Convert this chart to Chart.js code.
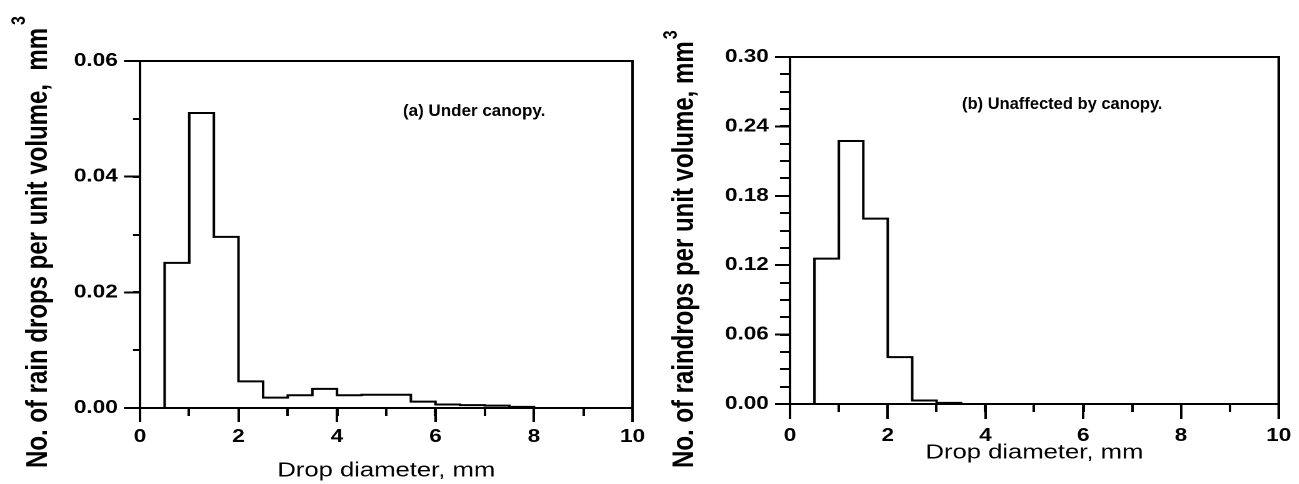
<!DOCTYPE html>
<html><head><meta charset="utf-8">
<script src="https://cdn.jsdelivr.net/npm/chart.js@4.4.1/dist/chart.umd.min.js"></script>
<style>
html,body{margin:0;padding:0;background:#fff;overflow:hidden;width:1299px;height:484px;}
.panel{position:absolute;top:0;height:484px;transform:scaleX(1.25);transform-origin:0 0;}
#pa{left:0;width:520px;} #pb{left:650px;width:519px;}
</style></head><body>
<div class="panel" id="pa"><canvas id="ca" width="520" height="484"></canvas></div>
<div class="panel" id="pb"><canvas id="cb" width="519" height="484"></canvas></div>
<script>
// ---- data ----
const binWidth = 0.5;
const binStartA = [0.5, 1.0, 1.5, 2.0, 2.5, 3.0, 3.5, 4.0, 4.5, 5.0, 5.5, 6.0, 6.5, 7.0, 7.5];
const dropsUnderCanopy = [0.0251, 0.0510, 0.0296, 0.0046, 0.0018, 0.0022, 0.0033, 0.0022, 0.0023, 0.0023, 0.0011, 0.0006, 0.0005, 0.0004, 0.0002];
const binStartB = [0.5, 1.0, 1.5, 2.0, 2.5, 3.0];
const dropsUnaffected = [0.1257, 0.2274, 0.1603, 0.0405, 0.0030, 0.0010];
const xTickValues = [0, 2, 4, 6, 8, 10];
const yTickValuesA = [0.00, 0.02, 0.04, 0.06];
const yTickValuesB = [0.00, 0.06, 0.12, 0.18, 0.24, 0.30];

const FAM = '"Liberation Sans", Arial, Helvetica, sans-serif';
const STRETCH = 1.25;

function stepPoints(starts, values) {
  const pts = [{x: starts[0], y: 0}];
  starts.forEach((s, i) => pts.push({x: s, y: values[i]}));
  pts.push({x: starts[starts.length - 1] + binWidth, y: 0});
  return pts;
}

const minorTicksPlugin = {
  id: 'minorTicks',
  afterDraw(chart, args, o) {
    const ctx = chart.ctx, a = chart.chartArea;
    const xs = chart.scales.x, ys = chart.scales.y;
    ctx.save();
    ctx.strokeStyle = '#000'; ctx.lineWidth = 2; ctx.lineCap = 'butt';
    ctx.beginPath();
    for (let k = 0; ; k++) {
      const v = xs.min + k * o.xStep;
      if (v > xs.max + 1e-9) break;
      const p = Math.round(xs.getPixelForValue(v));
      ctx.moveTo(p, a.bottom); ctx.lineTo(p, a.bottom + o.xLen);
    }
    for (let k = 0; ; k++) {
      const v = ys.min + k * o.yStep;
      if (v > ys.max + 1e-9) break;
      const p = Math.round(ys.getPixelForValue(v));
      ctx.moveTo(a.left - o.yLen, p); ctx.lineTo(a.left, p);
    }
    ctx.stroke();
    ctx.restore();
  }
};

const panelTextPlugin = {
  id: 'panelText',
  afterDraw(chart, args, o) {
    const ctx = chart.ctx;
    ctx.save();
    ctx.fillStyle = '#000';
    ctx.textAlign = 'left'; ctx.textBaseline = 'alphabetic';
    // annotation
    ctx.save();
    ctx.translate(o.note.x, o.note.y);
    ctx.scale(1 / STRETCH, 1);
    ctx.font = 'bold ' + o.note.size + 'px ' + FAM;
    ctx.fillText(o.note.text, 0, 0);
    ctx.restore();
    // y axis title with superscript
    ctx.save();
    ctx.translate(o.yTitle.x, o.yTitle.y);
    ctx.rotate(-Math.PI / 2);
    ctx.font = 'bold ' + o.yTitle.size + 'px ' + FAM;
    ctx.fillText(o.yTitle.text, 0, 0);
    const w = ctx.measureText(o.yTitle.text).width;
    ctx.font = 'bold ' + o.yTitle.supSize + 'px ' + FAM;
    ctx.fillText(o.yTitle.sup, w + o.yTitle.supDx, o.yTitle.supDy);
    ctx.restore();
    ctx.restore();
  }
};

function makeChart(id, c) {
  const tickFont = {family: FAM, size: 18, weight: 'bold'};
  return new Chart(document.getElementById(id), {
    type: 'line',
    data: {datasets: [{
      data: stepPoints(c.starts, c.values),
      stepped: 'before', borderColor: '#000', borderWidth: 2,
      pointRadius: 0, fill: false, tension: 0
    }]},
    options: {
      responsive: false, animation: false, devicePixelRatio: 2,
      layout: {padding: 0, autoPadding: false},
      events: [],
      plugins: {
        legend: {display: false}, tooltip: {enabled: false},
        minorTicks: c.minor, panelText: c.text
      },
      scales: {
        x: {
          type: 'linear', position: 'bottom', min: 0, max: 10,
          afterBuildTicks: s => { s.ticks = xTickValues.map(v => ({value: v})); },
          afterFit: s => { s.height = c.bottomH; },
          ticks: {font: tickFont, color: '#000', padding: c.xPad, maxRotation: 0, autoSkip: false,
                  callback: v => String(v)},
          grid: {display: true, drawOnChartArea: false, drawTicks: true, tickLength: c.xTickLen,
                 tickWidth: 2, tickColor: '#000', color: '#000'},
          border: {display: true, color: '#000', width: 2},
          title: {display: true, text: 'Drop diameter, mm', color: '#000',
                  font: {family: FAM, size: 20.5}, padding: {top: 0, bottom: c.xTitlePad}}
        },
        y: {
          type: 'linear', position: 'left', min: 0, max: c.yMax,
          afterBuildTicks: s => { s.ticks = c.yTicks.map(v => ({value: v})); },
          afterFit: s => { s.width = 112; },
          ticks: {font: tickFont, color: '#000', padding: 5, autoSkip: false,
                  callback: v => Number(v).toFixed(2)},
          grid: {display: true, drawOnChartArea: false, drawTicks: true, tickLength: c.yTickLen,
                 tickWidth: 2, tickColor: '#000', color: '#000'},
          border: {display: true, color: '#000', width: 2}
        },
        x2: {
          type: 'linear', position: 'top', min: 0, max: 10,
          ticks: {display: false}, grid: {display: false, drawTicks: false},
          border: {display: true, color: '#000', width: 2},
          afterFit: s => { s.height = c.topH; }
        },
        y2: {
          type: 'linear', position: 'right', min: 0, max: c.yMax,
          ticks: {display: false}, grid: {display: false, drawTicks: false},
          border: {display: true, color: '#000', width: 2},
          afterFit: s => { s.width = c.rightW; }
        }
      }
    },
    plugins: [minorTicksPlugin, panelTextPlugin]
  });
}

makeChart('ca', {
  starts: binStartA, values: dropsUnderCanopy, yMax: 0.06, yTicks: yTickValuesA,
  topH: 61, bottomH: 76, rightW: 12,
  xPad: 4, xTickLen: 14, yTickLen: 12.8, xTitlePad: 1,
  minor: {xStep: 1, xLen: 8, yStep: 0.01, yLen: 5.6},
  text: {
    note: {text: '(a) Under canopy.', x: 322.4, y: 116, size: 17},
    yTitle: {text: 'No. of rain drops per unit volume,  mm', sup: '3', x: 37.6, y: 468, size: 24,
             supSize: 16, supDx: 3, supDy: -17.6}
  }
});

makeChart('cb', {
  starts: binStartB, values: dropsUnaffected, yMax: 0.30, yTicks: yTickValuesB,
  topH: 57, bottomH: 80, rightW: 11,
  xPad: 6, xTickLen: 15, yTickLen: 12, xTitlePad: 19,
  minor: {xStep: 1, xLen: 8, yStep: 0.015, yLen: 8},
  text: {
    note: {text: '(b) Unaffected by canopy.', x: 249.6, y: 109, size: 16.5},
    yTitle: {text: 'No. of raindrops per unit volume, mm', sup: '3', x: 34.5, y: 468, size: 24,
             supSize: 16, supDx: 2, supDy: -12.9}
  }
});
</script>
</body></html>
